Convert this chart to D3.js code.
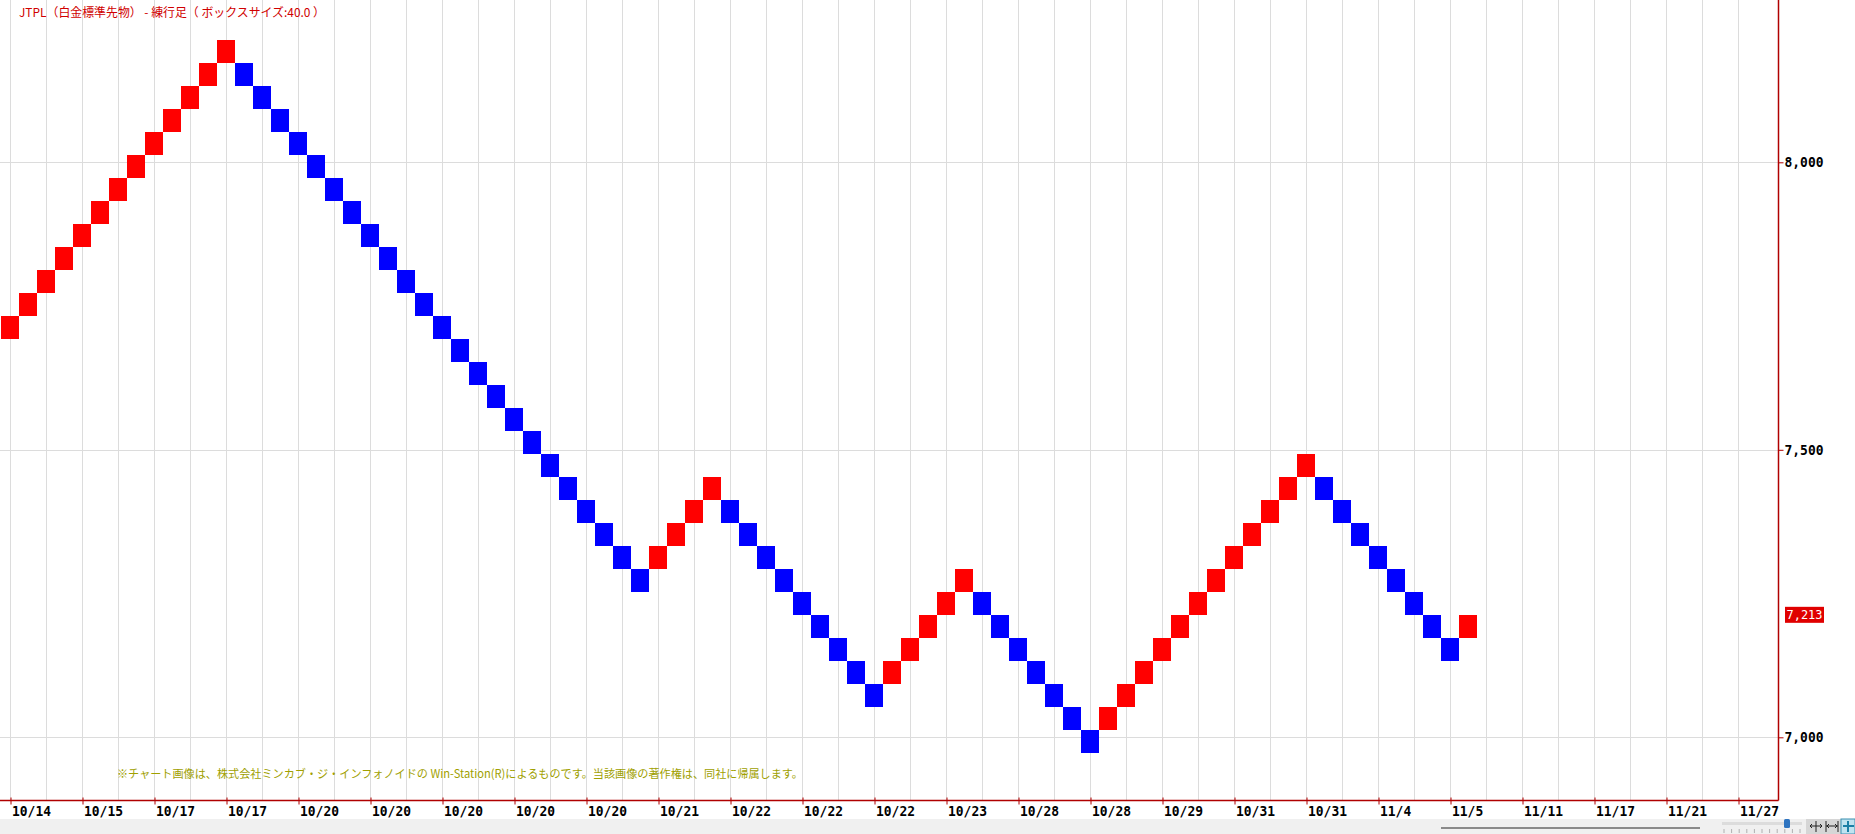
<!DOCTYPE html>
<html>
<head>
<meta charset="utf-8">
<script src="https://cdn.jsdelivr.net/npm/d3@7"></script>
<style>
  body { margin: 0; background: #fff; }
  svg { display: block; }
</style>
</head>
<body>
<svg id="chart" width="1855" height="834"></svg>
<script>
// ---------------- data ----------------
const titleText = "JTPL（白金標準先物） - 練行足（ ボックスサイズ:40.0 ）";
const footnoteText = "※チャート画像は、株式会社ミンカブ・ジ・インフォノイドの Win-Station(R)によるものです。当該画像の著作権は、同社に帰属します。";
const boxSize = 40;
const lastPrice = 7213;

// lower edge of every renko brick, one per column
const brickLows = [
  7693, 7733, 7773, 7813, 7853, 7893, 7933, 7973, 8013, 8053, 8093, 8133, 8173,
  8133, 8093, 8053, 8013, 7973, 7933, 7893, 7853, 7813, 7773, 7733, 7693, 7653,
  7613, 7573, 7533, 7493, 7453, 7413, 7373, 7333, 7293, 7253,
  7293, 7333, 7373, 7413,
  7373, 7333, 7293, 7253, 7213, 7173, 7133, 7093, 7053,
  7093, 7133, 7173, 7213, 7253,
  7213, 7173, 7133, 7093, 7053, 7013, 6973,
  7013, 7053, 7093, 7133, 7173, 7213, 7253, 7293, 7333, 7373, 7413, 7453,
  7413, 7373, 7333, 7293, 7253, 7213, 7173, 7133,
  7173
];
// direction of each brick: "u" = rising (red), "d" = falling (blue)
const brickDirs = [
  "u","u","u","u","u","u","u","u","u","u","u","u","u",
  "d","d","d","d","d","d","d","d","d","d","d","d","d",
  "d","d","d","d","d","d","d","d","d","d",
  "u","u","u","u",
  "d","d","d","d","d","d","d","d","d",
  "u","u","u","u","u",
  "d","d","d","d","d","d","d",
  "u","u","u","u","u","u","u","u","u","u","u","u",
  "d","d","d","d","d","d","d","d",
  "u"
];
const xTickLabels = [
  "10/14","10/15","10/17","10/17","10/20","10/20","10/20","10/20","10/20",
  "10/21","10/22","10/22","10/22","10/23","10/28","10/28","10/29","10/31",
  "10/31","11/4","11/5","11/11","11/17","11/21","11/27"
];
const yTickValues = [7000, 7500, 8000];

// ---------------- layout ----------------
const W = 1855, H = 834;
const plotRight = 1778.5, plotBottom = 800.5;
const colsPerGrid = 2, colsPerLabel = 4;
const totalCols = xTickLabels.length * colsPerLabel - (colsPerLabel - 1); // 97 column slots

const svg = d3.select("#chart");

const x = d3.scaleLinear().domain([0, 1]).range([10, 28]);     // column centre
const colW = x(1) - x(0);
const y = d3.scaleLinear().domain([7000, 8000]).range([737.3, 162.3]);

const RED = "#ff0000", BLUE = "#0000ff", AXIS = "#b00000", GRID = "#dcdcdc";

// background
svg.append("rect").attr("width", W).attr("height", H).attr("fill", "#fff");

// vertical grid
const gridCols = d3.range(0, totalCols, colsPerGrid);
svg.append("g").selectAll("line").data(gridCols).join("line")
  .attr("x1", d => Math.round(x(d)) + 0.5).attr("x2", d => Math.round(x(d)) + 0.5)
  .attr("y1", 0).attr("y2", plotBottom)
  .attr("stroke", GRID).attr("stroke-width", 1);

// horizontal grid
svg.append("g").selectAll("line").data(yTickValues).join("line")
  .attr("x1", 0).attr("x2", plotRight)
  .attr("y1", d => Math.round(y(d)) + 0.5).attr("y2", d => Math.round(y(d)) + 0.5)
  .attr("stroke", GRID).attr("stroke-width", 1);

// title
svg.append("text")
  .attr("x", 19).attr("y", 17)
  .attr("font-family", "'Noto Sans CJK JP', sans-serif")
  .attr("font-size", 12)
  .attr("fill", "#d00000")
  .attr("textLength", 306).attr("lengthAdjust", "spacingAndGlyphs")
  .text(titleText);

// bricks
const bricks = brickLows.map((lo, i) => ({ i, lo, hi: lo + boxSize, dir: brickDirs[i] }));
svg.append("g").selectAll("rect").data(bricks).join("rect")
  .attr("x", d => x(d.i) - colW / 2)
  .attr("width", colW)
  .attr("y", d => y(d.hi))
  .attr("height", d => y(d.lo) - y(d.hi))
  .attr("fill", d => d.dir === "u" ? RED : BLUE)
  .attr("shape-rendering", "crispEdges");

// footnote
svg.append("text")
  .attr("x", 117).attr("y", 778)
  .attr("font-family", "'Noto Sans CJK JP', sans-serif")
  .attr("font-size", 11.5)
  .attr("fill", "#a0a000")
  .attr("textLength", 686).attr("lengthAdjust", "spacingAndGlyphs")
  .text(footnoteText);

// bottom strip
svg.append("rect").attr("x", 0).attr("y", 819).attr("width", W).attr("height", H - 819).attr("fill", "#f0f0f0");

// x axis
const xAxis = d3.axisBottom(x)
  .tickValues(d3.range(0, totalCols, colsPerLabel))
  .tickFormat((d, i) => xTickLabels[i])
  .tickSize(4).tickSizeOuter(0);
const gx = svg.append("g").attr("transform", `translate(0.5,${plotBottom})`).call(xAxis);
gx.select(".domain").remove();
gx.selectAll(".tick line").attr("stroke", AXIS).attr("y1", -3);
gx.selectAll(".tick text")
  .attr("text-anchor", "start").attr("x", 1).attr("y", 6).attr("dy", "0.71em")
  .attr("font-family", "'DejaVu Sans Mono', monospace")
  .attr("font-weight", "bold").attr("font-size", 13.5).attr("fill", "#000")
  .attr("textLength", function () { return this.textContent.length * 7.8; })
  .attr("lengthAdjust", "spacingAndGlyphs");

// y axis
const yAxis = d3.axisRight(y).tickValues(yTickValues).tickFormat(d3.format(",")).tickSize(5).tickSizeOuter(0);
const gy = svg.append("g").attr("transform", `translate(${plotRight},0)`).call(yAxis);
gy.select(".domain").remove();
gy.selectAll(".tick line").attr("stroke", AXIS);
gy.selectAll(".tick text")
  .attr("x", 6)
  .attr("font-family", "'DejaVu Sans Mono', monospace")
  .attr("font-weight", "bold").attr("font-size", 13.5).attr("fill", "#000")
  .attr("textLength", 39).attr("lengthAdjust", "spacingAndGlyphs");

// axis lines
svg.append("line").attr("x1", 0).attr("x2", plotRight).attr("y1", plotBottom).attr("y2", plotBottom)
  .attr("stroke", AXIS).attr("stroke-width", 1.5);
svg.append("line").attr("x1", plotRight).attr("x2", plotRight).attr("y1", 0).attr("y2", plotBottom)
  .attr("stroke", AXIS).attr("stroke-width", 1.5);

// last price marker
const lp = svg.append("g").attr("transform", `translate(${plotRight + 6.5},${y(lastPrice)})`);
lp.append("rect").attr("x", 0).attr("y", -8).attr("width", 39).attr("height", 16).attr("fill", "#e00000");
lp.append("text").attr("x", 1.5).attr("y", 0).attr("dy", "0.35em")
  .attr("font-family", "'DejaVu Sans Mono', monospace").attr("font-size", 12.5)
  .attr("fill", "#fff")
  .attr("textLength", 36).attr("lengthAdjust", "spacingAndGlyphs")
  .text(d3.format(",")(lastPrice));

// scroll bar / controls in bottom strip
svg.append("line").attr("x1", 1441).attr("x2", 1700).attr("y1", 828).attr("y2", 828)
  .attr("stroke", "#8a8a8a").attr("stroke-width", 2);
svg.append("rect").attr("x", 1722).attr("y", 822).attr("width", 80).attr("height", 3).attr("fill", "#dcdcdc");
svg.append("g").selectAll("line").data(d3.range(0, 11)).join("line")
  .attr("x1", d => 1724 + d * 7.6).attr("x2", d => 1724 + d * 7.6)
  .attr("y1", 829).attr("y2", 833).attr("stroke", "#b0b0b0");
svg.append("rect").attr("x", 1784).attr("y", 819).attr("width", 6).attr("height", 9).attr("rx", 1.5).attr("fill", "#2f74c0");
svg.append("rect").attr("x", 1806).attr("y", 819).attr("width", 49).attr("height", 15).attr("fill", "#d6d6d6");
const ic = svg.append("g").attr("stroke", "#222").attr("stroke-width", 1).attr("fill", "none");
ic.append("path").attr("d", "M1810,826 h12 M1816,821 v11 M1812,824 l-2,2 l2,2 M1820,824 l2,2 l-2,2");
ic.append("path").attr("d", "M1826,826 h12 M1826,821 v11 M1838,821 v11 M1829,824 l-2,2 l2,2 M1835,824 l2,2 l-2,2");
svg.append("rect").attr("x", 1841).attr("y", 819).attr("width", 14).attr("height", 15).attr("fill", "#bfe3f0").attr("stroke", "#3a8fb0");
svg.append("path").attr("d", "M1848,821 v11 M1843,826 h11").attr("stroke", "#1a7fa6").attr("stroke-width", 2);
</script>
</body>
</html>
